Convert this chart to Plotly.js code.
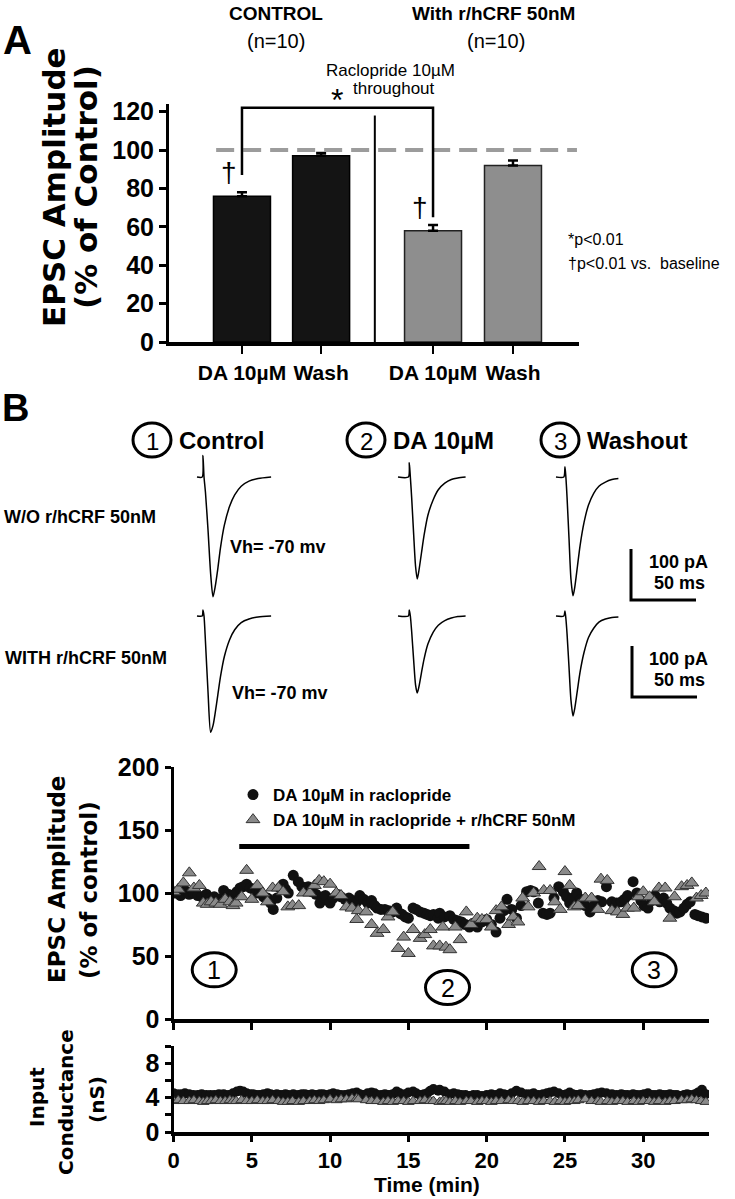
<!DOCTYPE html>
<html>
<head>
<meta charset="utf-8">
<script src="https://cdn.plot.ly/plotly-3.0.1.min.js"></script>
<style>body{margin:0;background:#fff;}</style>
</head>
<body>
<div id="fig" style="width:735px;height:1199px;"></div>
<script>
// ---- panel A: bar summary ----
var barCats = ["DA 10µM", "Wash", "DA 10µM", "Wash"];
var ctrlVals = [76, 97];
var ctrlErr = [2, 1.5];
var crfVals = [58, 92];
var crfErr = [3, 2.5];

// ---- panel B: example EPSC traces (ms, pA, baseline = 0) ----
var tCtrl = [0, 4, 4.6, 5.4, 6.5, 8.5, 10.5, 12.3, 14, 16, 18, 21, 25, 29, 34, 40, 47, 57];
var tDA = [0, 8, 8.7, 9.5, 10.5, 12, 13.5, 14.8, 16, 18, 20, 23, 27, 31, 36, 41, 46, 52];
var tWash = [0, 6, 6.9, 7.6, 8.5, 10, 11.5, 13.1, 14.5, 16.5, 18.5, 21.5, 25, 29, 33, 38, 43, 48];
var woCtrl = [0, 0, 42, 0, -30, -105, -190, -235, -215, -180, -140, -95, -58, -35, -18, -8, -3, 0];
var woDA = [0, 0, 28, 0, -40, -110, -175, -200, -185, -150, -115, -75, -45, -25, -12, -5, -2, 0];
var woWash = [0, 0, 20, 0, -40, -120, -200, -233, -215, -175, -135, -90, -55, -32, -18, -10, -5, -3];
var wCtrl = [0, 0, 12, 0, -50, -150, -228, -215, -190, -155, -120, -80, -47, -27, -13, -6, -2, 0];
var wDA = [0, 0, 12, 0, -30, -85, -135, -151, -140, -112, -85, -55, -32, -18, -9, -4, -1, 0];
var wWash = [0, 0, 10, -5, -35, -100, -165, -196, -180, -145, -110, -72, -42, -24, -12, -6, -3, -2];

// ---- panel B: time course (min, % of control) ----
var circT = [0.0,0.2,0.45,0.73,1.0,1.27,1.55,1.8,2.1,2.35,2.6,2.9,3.2,3.5,3.8,4.05,4.25,4.45,4.67,4.9,
  5.1,5.3,5.5,5.75,6.0,6.2,6.37,6.6,6.8,7.0,7.15,7.33,7.65,7.97,8.2,8.4,8.6,8.85,9.1,9.35,
  9.55,9.7,10.0,10.2,10.45,10.7,10.95,11.2,11.45,11.7,11.9,12.15,12.4,12.65,12.85,13.0,13.25,13.5,13.75,14.0,
  14.25,14.45,14.6,14.8,15.0,15.3,15.5,15.75,16.0,16.2,16.4,16.6,16.9,17.0,17.3,17.65,17.9,18.15,18.4,18.65,
  18.9,19.15,19.4,19.7,20.0,20.3,20.6,20.85,21.1,21.3,21.6,21.9,22.2,22.55,22.8,23.0,23.3,23.6,23.85,24.05,
  24.3,24.6,24.9,25.1,25.3,25.5,25.75,26.0,26.3,26.6,26.85,27.1,27.35,27.65,28.0,28.3,28.6,28.8,29.0,29.35,
  29.6,29.85,30.05,30.3,30.55,30.75,31.05,31.3,31.5,31.7,31.95,32.15,32.35,32.6,32.8,33.0,33.3,33.5,33.75,34.0];
var circV = [100,100,98,102,99,100,98,97,99,96,97,95,102,99,98,101,104,105,107,104,
  103,100,101,97,96,92,87,96,104,107,103,100,114,109,105,104,105,101,99,92,
  97,98,92,96,99,97,95,96,94,93,98,95,92,94,90,88,87,87,86,85,
  88,84,83,81,80,88,87,85,84,83,82,83,80,84,81,82,79,78,77,75,
  73,76,73,77,79,75,69,80,86,95,87,80,90,101,102,101,92,84,83,84,
  96,105,101,97,92,96,100,95,90,85,90,94,93,105,93,92,93,95,98,109,
  100,94,90,88,94,98,93,96,92,88,86,84,85,88,91,93,83,82,81,80];
var triT = [0.0,0.3,0.63,1.01,1.3,1.65,1.9,2.15,2.4,2.7,3.0,3.3,3.6,3.8,4.0,4.35,4.67,5.0,5.35,5.7,
  6.0,6.33,6.7,7.0,7.3,7.6,8.0,8.3,8.7,9.0,9.3,9.6,10.0,10.4,10.7,11.05,11.4,11.7,11.8,12.3,
  12.65,13.0,13.4,13.7,14.0,14.35,14.7,15.0,15.3,15.75,16.05,16.4,16.6,17.0,17.2,17.4,17.65,18.0,18.3,18.7,
  19.0,19.4,19.7,20.0,20.3,20.6,20.95,21.4,21.7,22.0,22.3,22.65,23.0,23.35,23.65,24.05,24.35,24.7,25.0,25.3,
  25.6,25.85,26.3,26.7,27.1,27.3,27.7,28.0,28.35,28.7,29.0,29.4,29.7,30.0,30.4,30.7,31.0,31.4,31.7,32.0,
  32.45,32.8,33.1,33.4,33.7,34.0];
var triV = [101,103,108,116,104,106,92,91,93,92,91,95,93,90,92,97,118,95,106,100,
  93,104,104,101,89,90,90,100,100,106,110,109,107,100,98,89,88,79,86,85,
  75,68,71,81,85,56,65,52,71,64,67,71,58,58,73,57,55,73,63,85,
  75,80,79,79,73,86,89,75,81,77,96,89,100,121,102,102,93,87,117,106,
  89,90,96,96,87,111,110,86,85,83,88,88,97,101,97,93,104,104,80,97,
  105,106,108,96,98,100];

// input conductance (nS), same sweeps as above
var gCirc = [4.5,4.4,4.4,4.5,4.4,4.3,4.3,4.4,4.3,4.3,4.3,4.4,4.4,4.3,4.5,4.7,4.8,4.7,4.5,4.4,
  4.4,4.3,4.3,4.4,4.5,4.4,4.3,4.4,4.3,4.3,4.4,4.3,4.4,4.3,4.4,4.4,4.3,4.4,4.3,4.4,
  4.4,4.3,4.4,4.5,4.4,4.3,4.3,4.4,4.5,4.6,4.4,4.3,4.5,4.6,4.5,4.3,4.3,4.4,4.3,4.4,
  4.7,4.5,4.3,4.4,4.6,4.7,4.5,4.3,4.4,4.5,4.8,5.0,4.8,4.9,4.7,4.4,4.5,4.4,4.3,4.3,
  4.2,4.3,4.3,4.2,4.3,4.4,4.3,4.5,4.4,4.3,4.5,4.8,4.6,4.4,4.4,4.5,4.3,4.4,4.5,4.6,
  4.7,4.5,4.3,4.4,4.6,4.4,4.3,4.4,4.3,4.3,4.4,4.5,4.6,4.5,4.4,4.3,4.4,4.3,4.3,4.4,
  4.3,4.3,4.4,4.5,4.3,4.3,4.4,4.3,4.3,4.4,4.3,4.3,4.2,4.3,4.4,4.3,4.4,4.6,4.9,4.4];
var gTri = [3.6,3.7,3.6,3.6,3.7,3.6,3.5,3.6,3.6,3.7,3.6,3.6,3.7,3.6,3.6,3.7,3.6,3.6,3.7,3.6,
  3.6,3.7,3.6,3.5,3.5,3.6,3.5,3.6,3.6,3.7,3.6,3.7,3.8,3.7,3.8,3.8,3.9,3.9,3.8,3.7,
  3.6,3.6,3.5,3.6,3.5,3.6,3.6,3.5,3.6,3.6,3.7,3.6,3.6,3.5,3.6,3.6,3.5,3.6,3.5,3.6,
  3.6,3.5,3.6,3.6,3.5,3.6,3.6,3.7,3.6,3.6,3.5,3.6,3.6,3.5,3.6,3.6,3.5,3.6,3.5,3.6,
  3.6,3.7,3.8,3.6,3.6,3.5,3.6,3.5,3.6,3.6,3.5,3.6,3.5,3.6,3.6,3.5,3.6,3.5,3.6,3.6,
  3.7,3.7,3.8,3.7,3.6,3.5];

var drugOn = [4.2, 18.9]; // raclopride/DA application bar (min)

// ---------------- layout helpers ----------------
var W = 735, H = 1199;
function fx(p) { return p / W; }
function fy(p) { return 1 - p / H; }
var ARIAL = "Liberation Sans, Arial, sans-serif";
var WIDE = "DejaVu Sans, Verdana, sans-serif";

function note(text, x, y, size, extra) {
  var a = {
    text: text, x: fx(x), y: fy(y), xref: "paper", yref: "paper",
    showarrow: false, xanchor: "center", yanchor: "middle",
    font: { family: ARIAL, size: size, color: "black" }
  };
  for (var k in extra) a[k] = extra[k];
  return a;
}

// bar positions on panel A axis (0..10)
var barPos = [1.78, 3.71, 6.44, 8.39];

// trace area scaling: 50 ms = 65 px, 100 pA = 51 px
var msPx = 50 / 65, pAPx = 100 / 51;
var traceTop = 440, traceBot = 745;
var colStart = [197, 398, 556];
var rowBase = [477, 616];

function epsc(t, a, col, row) {
  return {
    x: t.map(function (v) { return v + colStart[col] * msPx; }),
    y: a.map(function (v) { return v - (rowBase[row] - traceTop) * pAPx; }),
    xaxis: "x4", yaxis: "y4", type: "scatter", mode: "lines",
    line: { color: "black", width: 1.5, shape: "spline", smoothing: 0.7 },
    showlegend: false, hoverinfo: "skip"
  };
}

var data = [
  {
    x: barPos.slice(0, 2), y: ctrlVals, type: "bar", width: 1.39,
    marker: { color: "#141414", line: { color: "black", width: 1.5 } },
    error_y: { type: "data", array: ctrlErr, arrayminus: [0, 0], symmetric: false, color: "black", thickness: 2.5, width: 5 },
    showlegend: false, hoverinfo: "skip"
  },
  {
    x: barPos.slice(2, 4), y: crfVals, type: "bar", width: 1.39,
    marker: { color: "#8e8e8e", line: { color: "#222", width: 1.5 } },
    error_y: { type: "data", array: crfErr, arrayminus: [0, 0], symmetric: false, color: "black", thickness: 2.5, width: 5 },
    showlegend: false, hoverinfo: "skip"
  },
  epsc(tCtrl, woCtrl, 0, 0), epsc(tDA, woDA, 1, 0), epsc(tWash, woWash, 2, 0),
  epsc(tCtrl, wCtrl, 0, 1), epsc(tDA, wDA, 1, 1), epsc(tWash, wWash, 2, 1),
  {
    x: circT, y: circV, xaxis: "x2", yaxis: "y2", type: "scatter", mode: "markers",
    name: "<b>DA 10µM in raclopride</b>",
    marker: { symbol: "circle", size: 11, color: "#111" }
  },
  {
    x: triT, y: triV, xaxis: "x2", yaxis: "y2", type: "scatter", mode: "markers",
    name: "<b>DA 10µM in raclopride + r/hCRF 50nM</b>",
    marker: { symbol: "triangle-up", size: 12, color: "#8a8a8a", line: { color: "#333", width: 1 } }
  },
  {
    x: circT, y: gCirc, xaxis: "x3", yaxis: "y3", type: "scatter", mode: "markers",
    marker: { symbol: "circle", size: 10, color: "#111" }, showlegend: false
  },
  {
    x: triT, y: gTri, xaxis: "x3", yaxis: "y3", type: "scatter", mode: "markers",
    marker: { symbol: "triangle-up", size: 10, color: "#8a8a8a", line: { color: "#333", width: 1 } }, showlegend: false
  }
];

var tickFont = { family: ARIAL, size: 25, color: "black", weight: "bold" };

var layout = {
  width: W, height: H,
  margin: { l: 0, r: 0, t: 0, b: 0 },
  paper_bgcolor: "white", plot_bgcolor: "rgba(0,0,0,0)",
  showlegend: true,
  legend: {
    x: fx(233), y: fy(777), xanchor: "left", yanchor: "top",
    font: { family: ARIAL, size: 17, color: "black" },
    bgcolor: "rgba(0,0,0,0)", tracegroupgap: 0
  },
  // panel A
  xaxis: {
    domain: [fx(169), fx(579)], range: [0, 10], anchor: "y",
    showline: true, linewidth: 4, linecolor: "black", showgrid: false, zeroline: false,
    ticks: "outside", ticklen: 8, tickwidth: 2, tickcolor: "black",
    tickvals: barPos, ticktext: barCats, ticklabelstandoff: 1,
    tickfont: { family: ARIAL, size: 21, color: "black", weight: "bold" }
  },
  yaxis: {
    domain: [fy(342), fy(104)], range: [0, 124], anchor: "x",
    showline: true, linewidth: 3, linecolor: "black", showgrid: false, zeroline: false,
    ticks: "outside", ticklen: 7, tickwidth: 3, tickcolor: "black",
    tickvals: [0, 20, 40, 60, 80, 100, 120], tickfont: tickFont
  },
  // panel B time course
  xaxis2: {
    domain: [fx(173.5), fx(709)], range: [0, 34.2], anchor: "y2",
    showline: true, linewidth: 4, linecolor: "black", showgrid: false, zeroline: false,
    ticks: "outside", ticklen: 7, tickwidth: 3, tickcolor: "black",
    tickvals: [0, 5, 10, 15, 20, 25, 30], showticklabels: false
  },
  yaxis2: {
    domain: [fy(1019), fy(767)], range: [0, 200], anchor: "x2",
    showline: true, linewidth: 3, linecolor: "black", showgrid: false, zeroline: false,
    ticks: "outside", ticklen: 6, tickwidth: 3, tickcolor: "black",
    tickvals: [0, 50, 100, 150, 200], tickfont: tickFont
  },
  xaxis3: {
    domain: [fx(173.5), fx(709)], range: [0, 34.2], anchor: "y3",
    showline: true, linewidth: 4, linecolor: "black", showgrid: false, zeroline: false,
    ticks: "outside", ticklen: 6, tickwidth: 3, tickcolor: "black", ticklabelstandoff: 0,
    tickvals: [0, 5, 10, 15, 20, 25, 30], tickfont: { family: ARIAL, size: 22, color: "black", weight: "bold" }
  },
  yaxis3: {
    domain: [fy(1132), fy(1046)], range: [0, 10], anchor: "x3",
    showline: true, linewidth: 3, linecolor: "black", showgrid: false, zeroline: false,
    ticks: "outside", ticklen: 6, tickwidth: 3, tickcolor: "black",
    tickvals: [0, 2, 4, 6, 8, 10], ticktext: ["0", "", "4", "", "8", ""], tickfont: tickFont
  },
  // example traces (hidden axes in ms / pA)
  xaxis4: { domain: [0, 1], range: [0, W * msPx], anchor: "y4", visible: false },
  yaxis4: { domain: [fy(traceBot), fy(traceTop)], range: [-(traceBot - traceTop) * pAPx, 0], anchor: "x4", visible: false },
  shapes: [],
  annotations: []
};

var S = layout.shapes, A = layout.annotations;

// panel A decorations
S.push({ type: "line", xref: "x", yref: "y", x0: 1.15, x1: 9.95, y0: 100, y1: 100,
  line: { color: "#9c9c9c", width: 4, dash: "18px,9px" } });
S.push({ type: "path", xref: "x", yref: "y",
  path: "M " + barPos[0] + ",87 L " + barPos[0] + ",122 L " + barPos[2] + ",122 L " + barPos[2] + ",65",
  line: { color: "black", width: 2.5 } });
S.push({ type: "line", xref: "x", yref: "y", x0: 5.02, x1: 5.02, y0: 0, y1: 118,
  line: { color: "black", width: 2 } });

A.push(note("<b>A</b>", 17, 40, 40));
A.push(note("<b>CONTROL</b>", 276, 14, 19));
A.push(note("(n=10)", 276, 41, 20));
A.push(note("<b>With r/hCRF 50nM</b>", 493, 14, 19));
A.push(note("(n=10)", 496, 41, 20));
A.push(note("Raclopride 10µM", 390, 71, 17));
A.push(note("throughout", 394, 89, 17));
A.push(note("*", 337, 100, 32));
A.push(note("†", 229, 173, 28));
A.push(note("†", 420, 208, 28));
A.push(note("*p<0.01", 566, 240, 16, { xanchor: "left" }));
A.push(note("†p<0.01 vs.  baseline", 566, 263, 16, { xanchor: "left" }));
A.push(note("<b>EPSC Amplitude</b>", 54, 187, 31, { textangle: -90, font: { family: WIDE, size: 31, color: "black" } }));
A.push(note("<b>(% of Control)</b>", 86, 187, 31, { textangle: -90, font: { family: WIDE, size: 31, color: "black" } }));

// panel B header
A.push(note("<b>B</b>", 16, 408, 38));
var heads = [[152, "1", "Control"], [366, "2", "DA 10µM"], [560, "3", "Washout"]];
heads.forEach(function (h) {
  S.push({ type: "circle", xref: "paper", yref: "paper",
    x0: fx(h[0] - 19), x1: fx(h[0] + 19), y0: fy(440 + 17), y1: fy(440 - 17),
    line: { color: "black", width: 3 } });
  A.push(note(h[1], h[0], 441, 24));
  A.push(note("<b>" + h[2] + "</b>", h[0] + 25, 440, 24, { xanchor: "left" }));
});
A.push(note("<b>W/O r/hCRF 50nM</b>", 2, 517, 18, { xanchor: "left" }));
A.push(note("<b>WITH r/hCRF 50nM</b>", 3, 658, 18, { xanchor: "left" }));
A.push(note("<b>Vh= -70 mv</b>", 228, 547, 18, { xanchor: "left" }));
A.push(note("<b>Vh= -70 mv</b>", 230, 693, 18, { xanchor: "left" }));

// scale bars: 100 pA x 50 ms
[[631, 600], [632, 697]].forEach(function (c, i) {
  var x0 = c[0] * msPx, y0 = -(c[1] - traceTop) * pAPx;
  S.push({ type: "path", xref: "x4", yref: "y4",
    path: "M " + x0 + "," + (y0 + 100) + " L " + x0 + "," + y0 + " L " + (x0 + 50) + "," + y0,
    line: { color: "black", width: 3 } });
  A.push(note("<b>100 pA</b>", 678, c[1] - 38, 18));
  A.push(note("<b>50 ms</b>", 679, c[1] - 17, 18));
});

// time course decorations
S.push({ type: "line", xref: "x2", yref: "y2", x0: drugOn[0], x1: drugOn[1], y0: 137, y1: 137,
  line: { color: "black", width: 5 } });
[[2.6, 39, "1"], [17.5, 25, "2"], [30.7, 39, "3"]].forEach(function (m) {
  S.push({ type: "circle", xref: "x2", yref: "y2", xsizemode: "pixel", ysizemode: "pixel",
    xanchor: m[0], yanchor: m[1], x0: -22, x1: 22, y0: -17, y1: 17,
    line: { color: "black", width: 3 } });
  A.push({ text: m[2], x: m[0], y: m[1], xref: "x2", yref: "y2", showarrow: false,
    font: { family: ARIAL, size: 25, color: "black" } });
});
A.push(note("<b>EPSC Amplitude</b>", 57, 880, 23, { textangle: -90, font: { family: WIDE, size: 23, color: "black" } }));
A.push(note("<b>(% of control)</b>", 89, 890, 23, { textangle: -90, font: { family: WIDE, size: 23, color: "black" } }));

A.push(note("<b>Input</b>", 37, 1097, 20, { textangle: -90, font: { family: WIDE, size: 20, color: "black" } }));
A.push(note("<b>Conductance</b>", 66, 1102, 20, { textangle: -90, font: { family: WIDE, size: 20, color: "black" } }));
A.push(note("<b>(nS)</b>", 97, 1100, 20, { textangle: -90, font: { family: WIDE, size: 20, color: "black" } }));
A.push(note("<b>Time (min)</b>", 427, 1184, 21));

Plotly.newPlot("fig", data, layout, { displayModeBar: false, staticPlot: true });
</script>
</body>
</html>
